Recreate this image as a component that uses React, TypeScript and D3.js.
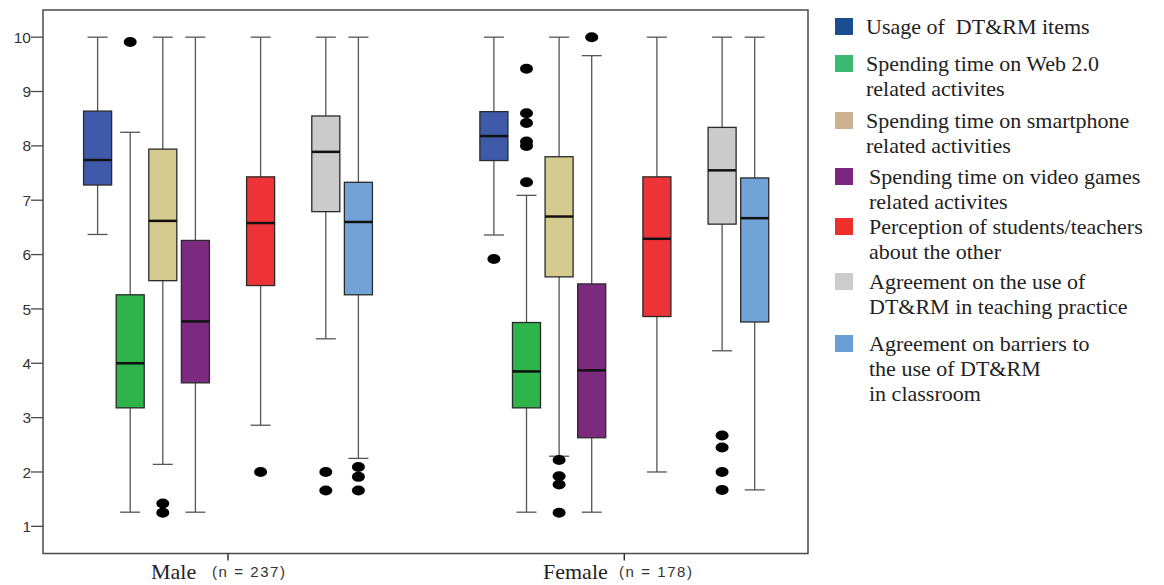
import React from "react";
import * as d3 from "d3";

// Groups on the category axis
const groups = ["Male", "Female"];
const groupSizes = ["(n = 237)", "(n = 178)"];

// Measured constructs (one box per construct in each group)
const seriesNames = [
  "Usage of  DT&RM items",
  "Spending time on Web 2.0 related activites",
  "Spending time on smartphone related activities",
  "Spending time on video games related activites",
  "Perception of students/teachers about the other",
  "Agreement on the use of DT&RM in teaching practice",
  "Agreement on barriers to the use of DT&RM in classroom",
];

// Legend text broken into lines
const legendLines = [
  ["Usage of  DT&RM items"],
  ["Spending time on Web 2.0", "related activites"],
  ["Spending time on smartphone", "related activities"],
  ["Spending time on video games", "related activites"],
  ["Perception of students/teachers", "about the other"],
  ["Agreement on the use of", "DT&RM in teaching practice"],
  ["Agreement on barriers to", "the use of DT&RM", "in classroom"],
];

// Box fills and legend swatch fills
const boxColors = ["#3f5aa9", "#2fb34b", "#d6cb8f", "#7c2a80", "#ee3338", "#cbcbcb", "#72a3d6"];
const swatchColors = ["#1b4e91", "#3dba72", "#cdb290", "#7b2682", "#ee2f2c", "#cccccc", "#6a9fd5"];

// Slot index of each construct inside a group (9 slots per group)
const slots = [0, 1, 2, 3, 5, 7, 8];

// Five-number summaries: [min whisker, Q1, median, Q3, max whisker]
const maleStats = [
  [6.37, 7.28, 7.74, 8.64, 10],
  [1.26, 3.18, 4.0, 5.26, 8.25],
  [2.14, 5.52, 6.62, 7.94, 10],
  [1.26, 3.64, 4.77, 6.26, 10],
  [2.86, 5.43, 6.58, 7.43, 10],
  [4.45, 6.79, 7.89, 8.55, 10],
  [2.25, 5.26, 6.6, 7.33, 10],
];
const femaleStats = [
  [6.36, 7.73, 8.18, 8.63, 10],
  [1.26, 3.18, 3.85, 4.75, 7.09],
  [2.29, 5.59, 6.7, 7.8, 10],
  [1.26, 2.63, 3.87, 5.46, 9.66],
  [2.0, 4.86, 6.29, 7.43, 10],
  [4.23, 6.56, 7.55, 8.34, 10],
  [1.67, 4.76, 6.67, 7.41, 10],
];

// Outlying observations
const maleOutliers = [
  [],
  [9.91],
  [1.42, 1.25],
  [],
  [2.0],
  [2.0, 1.66],
  [2.09, 1.91, 1.66],
];
const femaleOutliers = [
  [5.92],
  [9.42, 8.6, 8.42, 8.08, 8.0, 7.33],
  [2.22, 1.92, 1.77, 1.25],
  [10],
  [],
  [2.67, 2.45, 2.0, 1.67],
  [],
];

const yTicks = [1, 2, 3, 4, 5, 6, 7, 8, 9, 10];

const W = 1164;
const H = 585;
const frame = { left: 43, right: 808, top: 10, bottom: 553.5 };

export default function App() {
  const y = d3.scaleLinear().domain([0.5, 10.5]).range([frame.bottom, frame.top]);
  const xGroup = d3.scalePoint<string>().domain(groups).range([228, 624.3]);
  const slotScale = d3
    .scaleBand<number>()
    .domain(d3.range(9))
    .range([-146.7, 146.7])
    .paddingInner(0.14)
    .paddingOuter(0.07);
  const bw = slotScale.bandwidth();
  const capHalf = 10;

  const statsByGroup = [maleStats, femaleStats];
  const outliersByGroup = [maleOutliers, femaleOutliers];

  const sans = "'Liberation Sans', Arial, sans-serif";
  const serif = "'Liberation Serif', 'Times New Roman', serif";

  // legend layout: swatch column, text column, line spacing and gap above each row
  const legendX = 835;
  const legendTextX = 866;
  const lineH = 25;
  const rowGaps = [18, 12, 7, 6, 0, 5, 12];
  let cursor = 0;
  const legendRows = legendLines.map((lines, i) => {
    const top = cursor + rowGaps[i];
    cursor = top + lines.length * lineH;
    return { lines, top, i };
  });

  const nameLayout = [
    { name: 151, size: 212 },
    { name: 543, size: 619 },
  ];

  return (
    <svg width={W} height={H} style={{ position: "absolute", left: 0, top: 0, background: "#fff" }}>
      <rect x={0} y={0} width={W} height={H} fill="#fff" />
      {/* plot frame */}
      <rect
        x={frame.left}
        y={frame.top}
        width={frame.right - frame.left}
        height={frame.bottom - frame.top}
        fill="none"
        stroke="#4a4a4a"
        strokeWidth={1.5}
      />
      {/* y axis */}
      {yTicks.map((t) => (
        <g key={t}>
          <line x1={frame.left - 12} x2={frame.left} y1={y(t)} y2={y(t)} stroke="#4a4a4a" strokeWidth={1.3} />
          <text
            x={frame.left - 12}
            y={y(t)}
            dy="0.36em"
            textAnchor="end"
            fontFamily={sans}
            fontSize={15.5}
            fill="#333"
          >
            {t}
          </text>
        </g>
      ))}
      {/* x axis group ticks and labels */}
      {groups.map((g, gi) => (
        <g key={g}>
          <line
            x1={xGroup(g)}
            x2={xGroup(g)}
            y1={frame.bottom}
            y2={frame.bottom + 7}
            stroke="#333"
            strokeWidth={1.5}
          />
          <text x={nameLayout[gi].name} y={579} fontFamily={serif} fontSize={22} fill="#222">
            {g}
          </text>
          <text
            x={nameLayout[gi].size}
            y={577}
            fontFamily={sans}
            fontSize={15}
            fill="#333"
            textLength={73}
            lengthAdjust="spacing"
          >
            {groupSizes[gi]}
          </text>
        </g>
      ))}
      {/* boxes */}
      {groups.map((g, gi) =>
        statsByGroup[gi].map((s, si) => {
          const cx = (xGroup(g) as number) + (slotScale(slots[si]) as number) + bw / 2;
          const [lo, q1, med, q3, hi] = s;
          return (
            <g key={g + si}>
              <line x1={cx} x2={cx} y1={y(q3)} y2={y(hi)} stroke="#555" strokeWidth={1.3} />
              <line x1={cx} x2={cx} y1={y(q1)} y2={y(lo)} stroke="#555" strokeWidth={1.3} />
              <line x1={cx - capHalf} x2={cx + capHalf} y1={y(hi)} y2={y(hi)} stroke="#555" strokeWidth={1.3} />
              <line x1={cx - capHalf} x2={cx + capHalf} y1={y(lo)} y2={y(lo)} stroke="#555" strokeWidth={1.3} />
              <rect
                x={cx - bw / 2}
                y={y(q3)}
                width={bw}
                height={y(q1) - y(q3)}
                fill={boxColors[si]}
                stroke="#2a2a2a"
                strokeWidth={1.3}
              />
              <line
                x1={cx - bw / 2}
                x2={cx + bw / 2}
                y1={y(med)}
                y2={y(med)}
                stroke="#111"
                strokeWidth={2.5}
              />
              {outliersByGroup[gi][si].map((o, oi) => (
                <ellipse key={oi} cx={cx} cy={y(o)} rx={6.5} ry={5} fill="#000" />
              ))}
            </g>
          );
        })
      )}
      {/* legend */}
      {legendRows.map(({ lines, top, i }) => (
        <g key={seriesNames[i]}>
          <rect x={legendX} y={top} width={18} height={17} fill={swatchColors[i]} />
          {lines.map((ln, li) => (
            <text
              key={li}
              x={legendTextX + (i >= 3 ? 3 : 0)}
              y={top + 8.5 + 7.5 + li * lineH}
              fontFamily={serif}
              fontSize={22}
              fill="#222"
              style={{ whiteSpace: "pre" }}
            >
              {ln}
            </text>
          ))}
        </g>
      ))}
    </svg>
  );
}
